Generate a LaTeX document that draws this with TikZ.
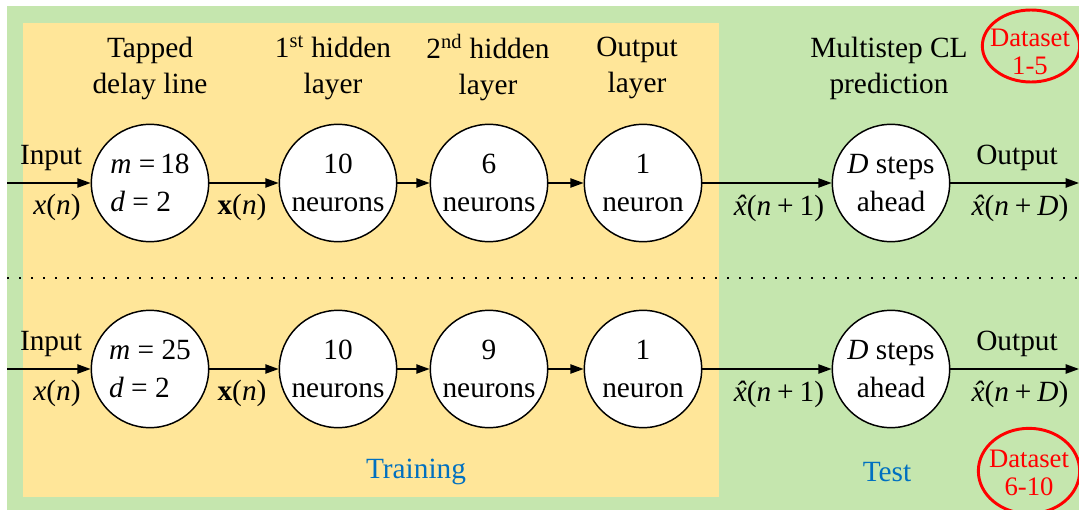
\documentclass[tikz,border=0pt]{standalone}
\usepackage{fontspec}
\setmainfont{Liberation Serif}
\usetikzlibrary{arrows.meta,shapes.geometric}
\definecolor{bggreen}{RGB}{197,230,174}
\definecolor{bgyellow}{RGB}{255,230,153}
\definecolor{myblue}{RGB}{0,112,192}
\definecolor{myred}{RGB}{255,0,0}
\newcommand{\xhat}{\textit{\accent"02C6 x}}
\newcommand{\pls}{\hspace{0.2em}+\hspace{0.2em}}
\begin{document}
\begin{tikzpicture}[x=0.75pt,y=-0.75pt,
  neuron/.style={circle,draw,line width=1.1pt,fill=white,minimum size=88pt,inner sep=0pt,align=center,font=\fontsize{22}{29}\selectfont},
  lab/.style={font=\fontsize{22}{27}\selectfont,align=center,inner sep=0pt},
  conn/.style={line width=1.1pt,-{Triangle[length=10pt,width=7pt]}},
  ds/.style={ellipse,draw=myred,line width=2.2pt,minimum width=73pt,minimum height=54pt,inner sep=0pt},
  dstxt/.style={align=center,text=myred,inner sep=0pt,font=\fontsize{20}{21.5}\selectfont},
  captxt/.style={font=\fontsize{22}{27}\selectfont,text=myblue,inner sep=0pt}]
\useasboundingbox (0,0) rectangle (1079,510);
\fill[white] (0,0) rectangle (1079,510);
\fill[bggreen] (7,6) rectangle (1079,510);
\fill[bgyellow] (23,23) rectangle (719,497);
\draw[line width=1.5pt,dash pattern=on 1.5pt off 7.5pt] (7,278) -- (1079,278);

% headers
\node[lab] (h1) at (150,68) {Tapped\\delay line};
\node[lab] (h2) at (333,68) {1\textsuperscript{st} hidden\\layer};
\node[lab] (h3) at (488,68) {2\textsuperscript{nd} hidden\\layer};
\node[lab] (h4) at (637,68) {Output\\layer};
\node[lab] (h5) at (889,68) {Multistep CL\\prediction};

% row 1
\coordinate (s1) at (7,183);
\coordinate (e1) at (1079,183);
\node[neuron,align=left] (a1) at (150,183) {\textit{m} =\,18\\\textit{d} = 2};
\node[neuron] (b1) at (338,183) {10\\neurons};
\node[neuron] (c1) at (489,183) {6\\neurons};
\node[neuron] (d1) at (643,183) {1\\neuron};
\node[neuron] (f1) at (891,183) {\textit{D} steps\\ahead};
\draw[conn] (s1) -- (a1);
\draw[conn] (a1) -- (b1);
\draw[conn] (b1) -- (c1);
\draw[conn] (c1) -- (d1);
\draw[conn] (d1) -- (f1);
\draw[conn] (f1) -- (e1);
\node[lab] (in1) at (51,158) {Input};
\node[lab] (xn1) at (57,207) {\textit{x}(\textit{n})};
\node[lab] (xb1) at (242,207) {\textbf{x}(\textit{n})};
\node[lab] (xh1) at (779,208) {\xhat(\textit{n}\pls1)};
\node[lab] (ot1) at (1017,158) {Output};
\node[lab] (xd1) at (1020,208) {\xhat(\textit{n}\pls\textit{D})};

% row 2
\coordinate (s2) at (7,369);
\coordinate (e2) at (1079,369);
\node[neuron,align=left] (a2) at (150,369) {\textit{m} = 25\\\textit{d} = 2};
\node[neuron] (b2) at (338,369) {10\\neurons};
\node[neuron] (c2) at (489,369) {9\\neurons};
\node[neuron] (d2) at (643,369) {1\\neuron};
\node[neuron] (f2) at (891,369) {\textit{D} steps\\ahead};
\draw[conn] (s2) -- (a2);
\draw[conn] (a2) -- (b2);
\draw[conn] (b2) -- (c2);
\draw[conn] (c2) -- (d2);
\draw[conn] (d2) -- (f2);
\draw[conn] (f2) -- (e2);
\node[lab] (in2) at (51,344) {Input};
\node[lab] (xn2) at (57,393) {\textit{x}(\textit{n})};
\node[lab] (xb2) at (242,393) {\textbf{x}(\textit{n})};
\node[lab] (xh2) at (779,394) {\xhat(\textit{n}\pls1)};
\node[lab] (ot2) at (1017,344) {Output};
\node[lab] (xd2) at (1020,394) {\xhat(\textit{n}\pls\textit{D})};

% captions
\node[captxt] (tr) at (416,472) {Training};
\node[captxt] (te) at (887,472) {Test};
\node[ds] (d15) at (1031,46) {};
\node[dstxt] (t15) at (1030,52) {Dataset\\1-5};
\node[ds,minimum height=64pt,minimum width=76pt] (d610) at (1029,471) {};
\node[dstxt] (t610) at (1029,473) {Dataset\\6-10};
\end{tikzpicture}
\end{document}
